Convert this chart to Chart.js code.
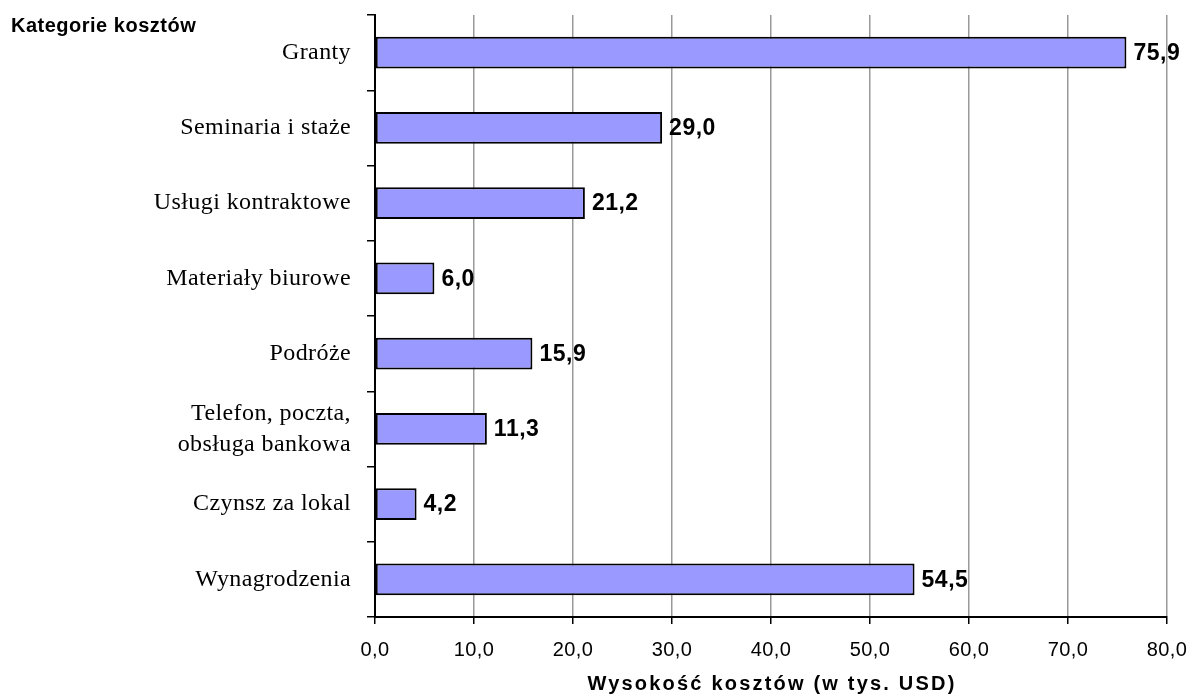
<!DOCTYPE html>
<html>
<head>
<meta charset="utf-8">
<script src="https://cdn.jsdelivr.net/npm/chart.js@4/dist/chart.umd.min.js"></script>
<style>
  html, body { margin: 0; padding: 0; background: #fff; }
  #wrap { width: 1190px; height: 695px; position: relative; }
</style>
</head>
<body>
<div id="wrap"><canvas id="c" width="1190" height="695"></canvas></div>
<script>
const categories = [
  'Granty',
  'Seminaria i staże',
  'Usługi kontraktowe',
  'Materiały biurowe',
  'Podróże',
  ['Telefon, poczta,', 'obsługa bankowa'],
  'Czynsz za lokal',
  'Wynagrodzenia'
];
const costValues = [75.9, 29.0, 21.2, 6.0, 15.9, 11.3, 4.2, 54.5];
const xTickMin = 0;
const xTickMax = 80;
const xTickStep = 10;
const yAxisLabel = 'Kategorie kosztów';
const xAxisLabel = 'Wysokość kosztów (w tys. USD)';

const fmt = v => v.toFixed(1).replace('.', ',');
const SANS = '"Liberation Sans", Arial, sans-serif';
const SERIF = '"Liberation Serif", "Times New Roman", serif';

const spacingPlugin = {
  id: 'spacing',
  beforeDraw(chart) { chart.ctx.letterSpacing = '0.4px'; }
};

const labelsPlugin = {
  id: 'valueLabels',
  afterDatasetsDraw(chart) {
    const ctx = chart.ctx;
    const meta = chart.getDatasetMeta(0);
    ctx.save();
    ctx.letterSpacing = '0.5px';
    ctx.font = 'bold 23px ' + SANS;
    ctx.fillStyle = '#000';
    ctx.textAlign = 'left';
    ctx.textBaseline = 'middle';
    meta.data.forEach((bar, i) => {
      ctx.fillText(fmt(costValues[i]), bar.x + 7, bar.y + 1);
    });
    ctx.restore();
  },
  afterDraw(chart) {
    const ctx = chart.ctx;
    const area = chart.chartArea;
    ctx.save();
    ctx.fillStyle = '#000';
    ctx.textBaseline = 'middle';
    ctx.letterSpacing = '0.5px';
    ctx.font = 'bold 20px ' + SANS;
    ctx.textAlign = 'left';
    ctx.fillText(yAxisLabel, 11, 26);
    ctx.letterSpacing = '2.2px';
    ctx.textAlign = 'center';
    ctx.fillText(xAxisLabel, (area.left + area.right) / 2 + 1, 684);
    ctx.restore();
  }
};

new Chart(document.getElementById('c'), {
  type: 'bar',
  data: {
    labels: categories,
    datasets: [{
      data: costValues,
      backgroundColor: '#9999FF',
      borderColor: '#000',
      borderWidth: 2,
      borderSkipped: false,
      barPercentage: 0.425,
      categoryPercentage: 1
    }]
  },
  options: {
    indexAxis: 'y',
    responsive: false,
    animation: false,
    events: [],
    layout: { padding: { left: 0, right: 23, top: 15, bottom: 0 } },
    plugins: { legend: { display: false }, tooltip: { enabled: false } },
    scales: {
      x: {
        min: xTickMin,
        max: xTickMax,
        afterFit(scale) {
          scale.height = 78;
          scale.paddingLeft = 0;
          scale.paddingRight = 0;
        },
        ticks: {
          stepSize: xTickStep,
          color: '#000',
          padding: 14,
          font: { family: SANS, size: 20 },
          callback: v => fmt(v)
        },
        grid: {
          color: '#999',
          lineWidth: 1.5,
          tickColor: '#000',
          tickLength: 7
        },
        border: { color: '#000', width: 2 }
      },
      y: {
        afterFit(scale) {
          scale.width = 375;
          scale.paddingTop = 0;
          scale.paddingBottom = 0;
        },
        ticks: {
          color: '#000',
          padding: 16,
          font: { family: SERIF, size: 24, lineHeight: 1.3 }
        },
        grid: {
          offset: true,
          drawOnChartArea: false,
          tickColor: '#000',
          tickLength: 8,
          lineWidth: 1.5
        },
        border: { color: '#000', width: 2 }
      }
    }
  },
  plugins: [spacingPlugin, labelsPlugin]
});
</script>
</body>
</html>
